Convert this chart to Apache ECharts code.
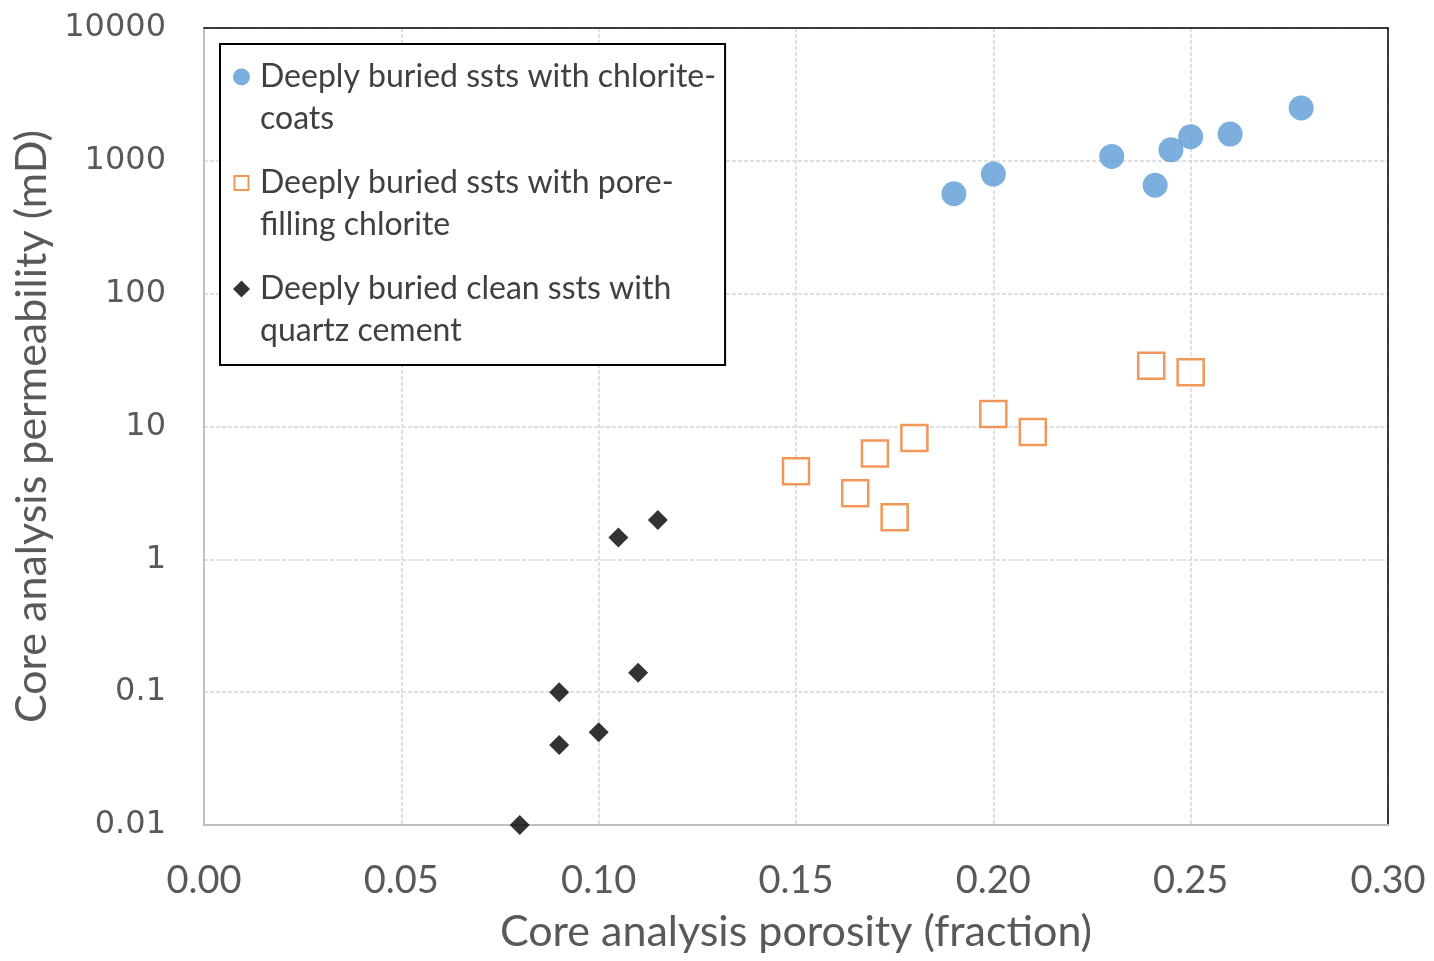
<!DOCTYPE html>
<html>
<head>
<meta charset="utf-8">
<script src="https://cdn.jsdelivr.net/npm/echarts@6/dist/echarts.min.js"></script>
<style>
html,body{margin:0;padding:0;background:#fff;}
#chart{width:1434px;height:961px;}
</style>
</head>
<body>
<div id="chart"></div>
<script>
// ---- data ----
const seriesNames = [
  'Deeply buried ssts with chlorite-coats',
  'Deeply buried ssts with pore-filling chlorite',
  'Deeply buried clean ssts with quartz cement'
];
const legendLines = {
  'Deeply buried ssts with chlorite-coats': 'Deeply buried ssts with chlorite-\ncoats',
  'Deeply buried ssts with pore-filling chlorite': 'Deeply buried ssts with pore-\nfilling chlorite',
  'Deeply buried clean ssts with quartz cement': 'Deeply buried clean ssts with\nquartz cement'
};
const coatsPorosity = [0.19, 0.20, 0.23, 0.241, 0.245, 0.25, 0.26, 0.278];
const coatsPerm     = [565, 795, 1080, 655, 1210, 1520, 1590, 2500];
const poreFillPorosity = [0.15, 0.165, 0.17, 0.175, 0.18, 0.20, 0.21, 0.24, 0.25];
const poreFillPerm     = [4.6, 3.15, 6.25, 2.07, 8.2, 12.4, 9.1, 28.7, 25.6];
const quartzPorosity = [0.08, 0.09, 0.09, 0.10, 0.11, 0.105, 0.115];
const quartzPerm     = [0.01, 0.04, 0.1, 0.05, 0.14, 1.46, 1.98];
const xTicks = ['0.00','0.05','0.10','0.15','0.20','0.25','0.30'];
const yTicks = ['0.01','0.1','1','10','100','1000','10000'];
const xTitle = 'Core analysis porosity (fraction)';
const yTitle = 'Core analysis permeability (mD)';

function zip(a, b){ return a.map((v,i)=>[v, b[i]]); }

// legend icons: shape sits at the top of a tall box so it lines up with the first text line
const ICON_W = 17, ICON_H = 59;
const iconCircle  = 'path://M0 0 M17 59 M17 8.5 A8.5 8.5 0 1 1 0 8.5 A8.5 8.5 0 1 1 17 8.5 Z';
const iconSquare  = 'path://M0 0 M17 59 M1.5 1.5 L15.5 1.5 L15.5 15.5 L1.5 15.5 Z';
const iconDiamond = 'path://M0 0 M17 59 M8.5 0 L17 8.5 L8.5 17 L0 8.5 Z';

const chart = echarts.init(document.getElementById('chart'), null, {renderer:'canvas'});
const gridLine = {show:true, lineStyle:{color:'#d6d6d6', type:[4,2], width:1.5}};
const frameAxisLine = {show:true, onZero:false, lineStyle:{color:'#000', width:1.5}};
const option = {
  backgroundColor:'#ffffff',
  animation:false,
  grid:{left:204, right:46, top:28, bottom:136, containLabel:false, outerBoundsMode:'none'},
  xAxis:[{
    type:'value', min:0, max:0.30, interval:0.05,
    name:xTitle, nameLocation:'middle', nameGap:86,
    nameTextStyle:{fontFamily:'Lato', fontSize:43, color:'#595959'},
    axisLine:{show:true, onZero:false, lineStyle:{color:'#bfbfbf', width:2}},
    axisTick:{show:false},
    splitLine:gridLine,
    axisLabel:{margin:37, fontFamily:'Lato', fontSize:38, color:'#595959',
      formatter:(v)=>{ const i=Math.round(v/0.05); return xTicks[i]!==undefined?xTicks[i]:v.toFixed(2);} }
  },{
    type:'value', position:'top', min:0, max:0.30, interval:0.05,
    axisLine:frameAxisLine, axisTick:{show:false}, axisLabel:{show:false}, splitLine:{show:false}
  }],
  yAxis:[{
    type:'log', logBase:10, min:0.01, max:10000,
    name:yTitle, nameLocation:'middle', nameGap:134, nameRotate:90,
    nameTextStyle:{fontFamily:'Lato', fontSize:43, color:'#595959'},
    axisLine:{show:true, onZero:false, lineStyle:{color:'#bfbfbf', width:2}},
    axisTick:{show:false},
    splitLine:gridLine,
    axisLabel:{margin:38, fontFamily:'DejaVu Sans', fontSize:32, color:'#595959',
      formatter:(v)=>{ const i=Math.round(Math.log10(v))+2; return yTicks[i]!==undefined?yTicks[i]:String(v);} }
  },{
    type:'log', logBase:10, min:0.01, max:10000, position:'right',
    axisLine:frameAxisLine, axisTick:{show:false}, axisLabel:{show:false}, splitLine:{show:false}
  }],
  legend:{
    orient:'vertical', left:220, top:44,
    data:[
      {name:seriesNames[0], icon:iconCircle},
      {name:seriesNames[1], icon:iconSquare},
      {name:seriesNames[2], icon:iconDiamond}
    ],
    backgroundColor:'#fff', borderColor:'#000', borderWidth:2,
    padding:[12, 9, 13, 12],
    itemWidth:ICON_W, itemHeight:ICON_H, itemGap:22,
    textStyle:{fontFamily:'Lato', fontSize:32, color:'#404040', lineHeight:42, padding:[0,0,0,5]},
    formatter:(n)=>legendLines[n]
  },
  series:[
    {name:seriesNames[0], type:'scatter', symbol:'circle', symbolSize:25,
      itemStyle:{color:'#5B9BD5'}, data:zip(coatsPorosity, coatsPerm)},
    {name:seriesNames[1], type:'scatter', symbol:'rect', symbolSize:26,
      itemStyle:{color:'#fff', borderColor:'#ED7D31', borderWidth:2.5}, data:zip(poreFillPorosity, poreFillPerm)},
    {name:seriesNames[2], type:'scatter', symbol:'diamond', symbolSize:[20,20],
      itemStyle:{color:'#000'}, data:zip(quartzPorosity, quartzPerm)}
  ]
};
chart.setOption(option);
</script>
</body>
</html>
